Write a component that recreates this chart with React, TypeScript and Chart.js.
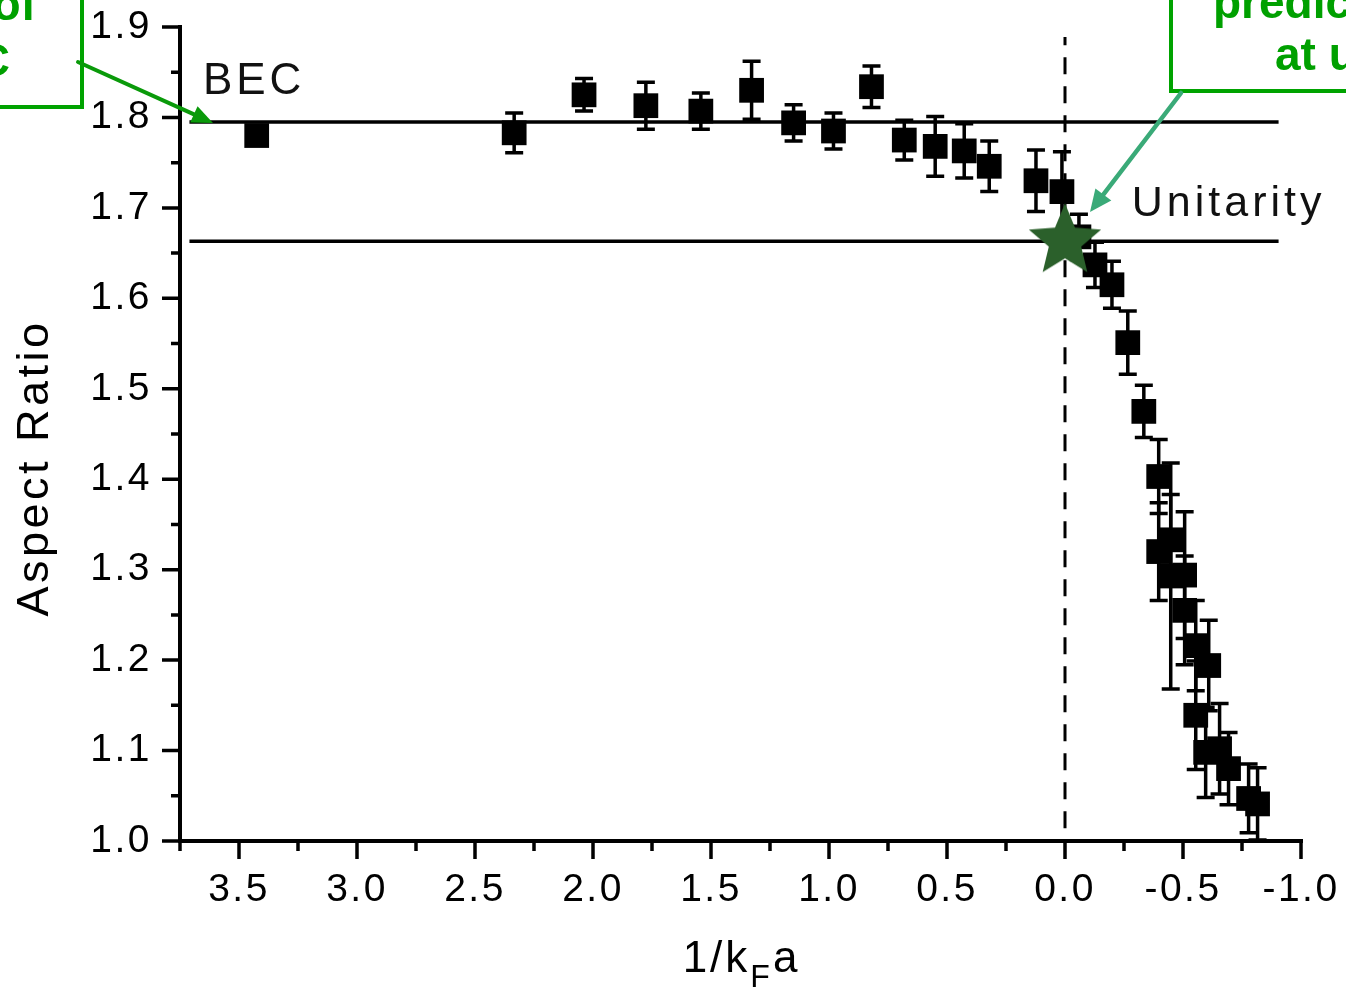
import React, { useEffect, useRef } from 'react';
import { Chart, registerables } from 'chart.js';

Chart.register(...registerables);

// ---- data ----
const xValues = [3.425, 2.334, 2.038, 1.776, 1.543, 1.328, 1.150, 0.981, 0.820, 0.681, 0.550, 0.427, 0.321, 0.123, 0.013, -0.059, -0.127, -0.199, -0.266, -0.334, -0.397, -0.397, -0.448, -0.448, -0.507, -0.507, -0.554, -0.609, -0.554, -0.596, -0.655, -0.693, -0.778, -0.816];
const aspectRatios = [1.780, 1.783, 1.825, 1.813, 1.807, 1.830, 1.794, 1.785, 1.834, 1.775, 1.768, 1.763, 1.746, 1.730, 1.718, 1.668, 1.637, 1.615, 1.551, 1.475, 1.403, 1.320, 1.333, 1.293, 1.294, 1.255, 1.216, 1.194, 1.139, 1.098, 1.102, 1.080, 1.047, 1.041];
const errors = [0.010, 0.022, 0.018, 0.026, 0.020, 0.032, 0.020, 0.020, 0.023, 0.022, 0.033, 0.030, 0.028, 0.034, 0.044, 0.025, 0.025, 0.026, 0.035, 0.029, 0.041, 0.054, 0.050, 0.125, 0.070, 0.060, 0.050, 0.050, 0.060, 0.050, 0.050, 0.040, 0.038, 0.040];

const becLevel = 1.795;
const unitarityLevel = 1.663;
const levelLineX = [3.71, -0.905];
const unitarityX = 0.0;
const dashedRange = [1.014, 1.889];
const starPoint = { x: 0.0, y: 1.663 };

const xTickValues = [3.5, 3.0, 2.5, 2.0, 1.5, 1.0, 0.5, 0.0, -0.5, -1.0];
const yTickValues = [1.0, 1.1, 1.2, 1.3, 1.4, 1.5, 1.6, 1.7, 1.8, 1.9];
const xMin = -1.0;
const xMax = 3.75;
const yMin = 1.0;
const yMax = 1.9;

const yAxisTitle = 'Aspect Ratio';
const xTitleParts = ['1/k', 'F', 'a'];
const becLabel = { text: 'BEC', x: 3.653, y: 1.826 };
const unitarityLabel = { text: 'Unitarity', x: -0.283, y: 1.691 };
const leftBoxLines = ['Signature of', 'BEC'];
const rightBoxLines = ['prediction', 'at unitarity'];

const FONT = '"Liberation Sans", Arial, Helvetica, sans-serif';

function makeStar(R: number, r: number, color: string) {
  const c = document.createElement('canvas');
  const size = Math.ceil(R * 2 + 4);
  c.width = size;
  c.height = size;
  const g = c.getContext('2d')!;
  g.fillStyle = color;
  g.beginPath();
  for (let i = 0; i < 10; i++) {
    const rad = i % 2 ? r : R;
    const a = -Math.PI / 2 + (i * Math.PI) / 5;
    const px = size / 2 + rad * Math.cos(a);
    const py = size / 2 + rad * Math.sin(a);
    if (i === 0) g.moveTo(px, py);
    else g.lineTo(px, py);
  }
  g.closePath();
  g.fill();
  return c;
}

function drawArrow(ctx: CanvasRenderingContext2D, x1: number, y1: number, x2: number, y2: number, color: string, width: number, headLen: number, headHalf: number) {
  const dx = x2 - x1;
  const dy = y2 - y1;
  const len = Math.hypot(dx, dy);
  const ux = dx / len;
  const uy = dy / len;
  const bx = x2 - ux * headLen;
  const by = y2 - uy * headLen;
  ctx.save();
  ctx.strokeStyle = color;
  ctx.fillStyle = color;
  ctx.lineWidth = width;
  ctx.lineCap = 'round';
  ctx.beginPath();
  ctx.moveTo(x1, y1);
  ctx.lineTo(bx + ux * 2, by + uy * 2);
  ctx.stroke();
  ctx.beginPath();
  ctx.moveTo(x2, y2);
  ctx.lineTo(bx - uy * headHalf, by + ux * headHalf);
  ctx.lineTo(bx + uy * headHalf, by - ux * headHalf);
  ctx.closePath();
  ctx.fill();
  ctx.restore();
}

const decorPlugin = {
  id: 'decor',
  beforeLayout(chart: any) {
    chart.ctx.letterSpacing = '2.5px';
  },
  beforeDraw(chart: any) {
    const ctx = chart.ctx;
    ctx.save();
    ctx.fillStyle = '#ffffff';
    ctx.fillRect(0, 0, chart.width, chart.height);
    ctx.restore();
    ctx.letterSpacing = '2.5px';
  },
  beforeDatasetsDraw(chart: any) {
    const ctx = chart.ctx;
    const xs = chart.scales.x;
    const ys = chart.scales.y;
    ctx.save();
    ctx.strokeStyle = '#000';
    ctx.lineWidth = 3.5;
    for (let i = 0; i < xValues.length; i++) {
      const px = xs.getPixelForValue(xValues[i]);
      const top = ys.getPixelForValue(aspectRatios[i] + errors[i]);
      const bot = ys.getPixelForValue(aspectRatios[i] - errors[i]);
      ctx.beginPath();
      ctx.moveTo(px, top);
      ctx.lineTo(px, bot);
      ctx.moveTo(px - 9, top);
      ctx.lineTo(px + 9, top);
      ctx.moveTo(px - 9, bot);
      ctx.lineTo(px + 9, bot);
      ctx.stroke();
    }
    ctx.restore();
  },
  afterDraw(chart: any) {
    const ctx: CanvasRenderingContext2D = chart.ctx;
    const xs = chart.scales.x;
    const ys = chart.scales.y;
    const area = chart.chartArea;
    ctx.save();
    ctx.strokeStyle = '#000';
    ctx.fillStyle = '#000';
    // axis lines
    ctx.lineWidth = 4;
    ctx.beginPath();
    ctx.moveTo(area.left, area.top - 2);
    ctx.lineTo(area.left, area.bottom + 2);
    ctx.moveTo(area.left - 2, area.bottom);
    ctx.lineTo(area.right + 2, area.bottom);
    ctx.stroke();
    // ticks
    ctx.lineWidth = 3.5;
    ctx.beginPath();
    yTickValues.forEach((v) => {
      const p = ys.getPixelForValue(v);
      ctx.moveTo(area.left - 18, p);
      ctx.lineTo(area.left, p);
    });
    yTickValues.slice(0, -1).forEach((v) => {
      const p = ys.getPixelForValue(v + 0.05);
      ctx.moveTo(area.left - 9, p);
      ctx.lineTo(area.left, p);
    });
    xTickValues.forEach((v) => {
      const p = xs.getPixelForValue(v);
      ctx.moveTo(p, area.bottom);
      ctx.lineTo(p, area.bottom + 18);
    });
    xTickValues.forEach((v) => {
      const m = v + 0.25;
      if (m <= xMax + 1e-9) {
        const p = xs.getPixelForValue(m);
        ctx.moveTo(p, area.bottom);
        ctx.lineTo(p, area.bottom + 10);
      }
    });
    ctx.stroke();

    // y title
    ctx.save();
    ctx.letterSpacing = '3.5px';
    ctx.font = `45px ${FONT}`;
    ctx.textAlign = 'center';
    ctx.textBaseline = 'alphabetic';
    ctx.translate(48, (area.top + area.bottom) / 2 + 34);
    ctx.rotate(-Math.PI / 2);
    ctx.fillText(yAxisTitle, 0, 0);
    ctx.restore();

    // x title with subscript
    ctx.save();
    ctx.letterSpacing = '3px';
    const mainFont = `44px ${FONT}`;
    const subFont = `32px ${FONT}`;
    ctx.font = mainFont;
    const w0 = ctx.measureText(xTitleParts[0]).width;
    const w2 = ctx.measureText(xTitleParts[2]).width;
    ctx.font = subFont;
    const w1 = ctx.measureText(xTitleParts[1]).width;
    const cx = (area.left + area.right) / 2 + 1;
    let sx = cx - (w0 + w1 + w2) / 2;
    ctx.textAlign = 'left';
    ctx.textBaseline = 'alphabetic';
    ctx.font = mainFont;
    ctx.fillText(xTitleParts[0], sx, area.bottom + 131);
    sx += w0;
    ctx.font = subFont;
    ctx.fillText(xTitleParts[1], sx, area.bottom + 146);
    sx += w1;
    ctx.font = mainFont;
    ctx.fillText(xTitleParts[2], sx, area.bottom + 131);
    ctx.restore();

    // BEC / Unitarity labels
    ctx.save();
    ctx.letterSpacing = '4px';
    ctx.font = `44px ${FONT}`;
    ctx.textAlign = 'left';
    ctx.textBaseline = 'alphabetic';
    ctx.fillStyle = '#111';
    ctx.fillText(becLabel.text, xs.getPixelForValue(becLabel.x), ys.getPixelForValue(becLabel.y));
    ctx.font = `43px ${FONT}`;
    ctx.fillText(unitarityLabel.text, xs.getPixelForValue(unitarityLabel.x), ys.getPixelForValue(unitarityLabel.y));
    ctx.restore();

    // green annotation boxes
    ctx.save();
    ctx.letterSpacing = '0px';
    ctx.strokeStyle = '#00a300';
    ctx.lineWidth = 4;
    ctx.strokeRect(-20, -20, 102, 127);
    ctx.strokeRect(1171, -20, 200, 111);
    ctx.fillStyle = '#00a000';
    ctx.font = `bold 46px ${FONT}`;
    ctx.textBaseline = 'alphabetic';
    ctx.textAlign = 'right';
    ctx.fillText(leftBoxLines[0], 36, 20);
    ctx.fillText(leftBoxLines[1], 10, 76);
    ctx.textAlign = 'left';
    ctx.fillText(rightBoxLines[0], 1213, 18);
    ctx.fillText(rightBoxLines[1], 1275, 70);
    ctx.restore();

    // arrows
    drawArrow(ctx, 78, 62, 213, 123, '#0a9a0a', 4, 21, 9);
    drawArrow(ctx, 1181, 93, 1090, 212, '#3aaa78', 4.5, 22, 10);

    ctx.restore();
  },
};

export default function App() {
  const ref = useRef<HTMLCanvasElement>(null);
  useEffect(() => {
    const canvas = ref.current!;
    const star = makeStar(38, 17, '#2b602b');
    Chart.defaults.font.family = FONT;
    Chart.defaults.color = '#000';
    const chart = new Chart(canvas, {
      type: 'scatter',
      data: {
        datasets: [
          {
            label: 'prediction',
            data: [starPoint],
            pointStyle: star as any,
            pointRadius: 10,
            showLine: false,
          },
          {
            label: 'Aspect Ratio',
            data: xValues.map((x, i) => ({ x, y: aspectRatios[i] })),
            pointStyle: 'rect',
            pointRadius: 17.5,
            pointBackgroundColor: '#000',
            pointBorderColor: '#000',
            pointBorderWidth: 0,
            showLine: false,
          },
          {
            label: 'BEC',
            data: levelLineX.map((x) => ({ x, y: becLevel })),
            showLine: true,
            borderColor: '#000',
            borderWidth: 3.5,
            pointRadius: 0,
          },
          {
            label: 'Unitarity',
            data: levelLineX.map((x) => ({ x, y: unitarityLevel })),
            showLine: true,
            borderColor: '#000',
            borderWidth: 3.5,
            pointRadius: 0,
          },
          {
            label: 'resonance',
            data: dashedRange.map((y) => ({ x: unitarityX, y })),
            showLine: true,
            borderColor: '#000',
            borderWidth: 3,
            borderDash: [17, 12],
            pointRadius: 0,
          },
        ],
      },
      options: {
        responsive: false,
        animation: false,
        devicePixelRatio: 1,
        layout: { padding: { left: 0, right: 45, top: 27, bottom: 0 } },
        plugins: {
          legend: { display: false },
          tooltip: { enabled: false },
        },
        scales: {
          x: {
            type: 'linear',
            min: xMin,
            max: xMax,
            reverse: true,
            position: 'bottom',
            grid: { display: false, drawTicks: false },
            border: { display: false },
            ticks: {
              font: { size: 39 },
              color: '#000',
              padding: 26,
              autoSkip: false,
              maxRotation: 0,
              callback: (v: any) => Number(v).toFixed(1),
            },
            afterBuildTicks: (s: any) => {
              s.ticks = xTickValues.map((value) => ({ value }));
            },
            afterFit: (s: any) => {
              s.height = 149;
              s.paddingLeft = 0;
              s.paddingRight = 0;
              s.paddingTop = 0;
              s.paddingBottom = 0;
            },
          },
          y: {
            type: 'linear',
            min: yMin,
            max: yMax,
            grid: { display: false, drawTicks: false },
            border: { display: false },
            ticks: {
              font: { size: 39 },
              color: '#000',
              padding: 28,
              autoSkip: false,
              callback: (v: any) => Number(v).toFixed(1),
            },
            afterBuildTicks: (s: any) => {
              s.ticks = yTickValues.map((value) => ({ value }));
            },
            afterFit: (s: any) => {
              s.width = 180;
              s.paddingLeft = 0;
              s.paddingRight = 0;
              s.paddingTop = 0;
              s.paddingBottom = 0;
            },
          },
        },
      } as any,
      plugins: [decorPlugin as any],
    });
    return () => chart.destroy();
  }, []);
  return (
    <div style={{ position: 'absolute', left: 0, top: 0, width: 1346, height: 990, background: '#fff', overflow: 'hidden' }}>
      <canvas ref={ref} width={1346} height={990} style={{ display: 'block' }} />
    </div>
  );
}
